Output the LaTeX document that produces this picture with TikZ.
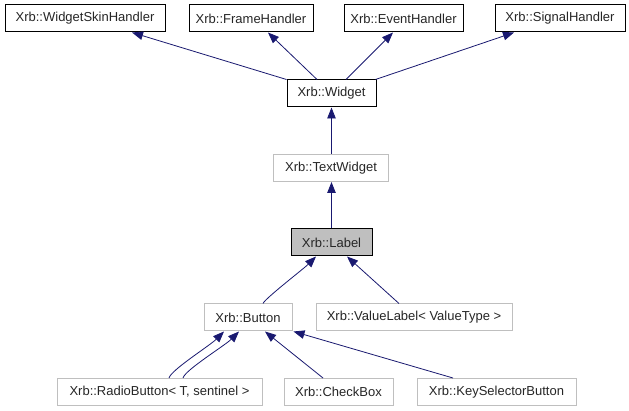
\documentclass[tikz,border=0pt]{standalone}
\usepackage{fontspec}
\setmainfont{Liberation Sans}
\usetikzlibrary{arrows.meta}
\definecolor{edgeblue}{HTML}{191970}
\definecolor{boxgray}{HTML}{BFBFBF}
\begin{document}
\begin{tikzpicture}[x=1pt,y=-1pt,
  box/.style={draw=black,line width=1pt,minimum height=27pt,inner sep=0pt,
    font=\fontsize{13}{15}\selectfont,text=black!85},
  graybox/.style={box,draw=boxgray},
  curbox/.style={box,fill=boxgray},
  edge/.style={draw=edgeblue,line width=0.8pt,-{Triangle[length=11pt,width=8.5pt]}}]
\useasboundingbox[fill=white] (0,0) rectangle (629,411);
% top row
\node[box,minimum width=160pt] (wsh) at (85,18.5) {Xrb::WidgetSkinHandler};
\node[box,minimum width=124pt] (fh) at (251,18.5) {Xrb::FrameHandler};
\node[box,minimum width=119pt] (eh) at (403.5,18.5) {Xrb::EventHandler};
\node[box,minimum width=130pt] (sh) at (560,18.5) {Xrb::SignalHandler};
% middle column
\node[box,minimum width=89pt] (widget) at (331.5,93.5) {Xrb::Widget};
\node[graybox,minimum width=115pt] (tw) at (331,168) {Xrb::TextWidget};
\node[curbox,minimum width=81pt] (label) at (331.5,242.5) {Xrb::Label};
% lower rows
\node[graybox,minimum width=88pt] (button) at (248,317.5) {Xrb::Button};
\node[graybox,minimum width=196pt] (vl) at (414,317.5) {Xrb::ValueLabel< ValueType >};
\node[graybox,minimum width=205pt] (radio) at (159.5,392) {Xrb::RadioButton< T, sentinel >};
\node[graybox,minimum width=109pt] (cb) at (338.5,392) {Xrb::CheckBox};
\node[graybox,minimum width=159pt] (ksb) at (496.5,392) {Xrb::KeySelectorButton};
% edges
\draw[edge] (widget.north west) -- ([xshift=47pt]wsh.south);
\draw[edge] ([xshift=-14.5pt]widget.north) -- ([xshift=17pt]fh.south);
\draw[edge] ([xshift=14.5pt]widget.north) -- ([xshift=-10.5pt]eh.south);
\draw[edge] ([xshift=-1pt]widget.north east) -- ([xshift=-46pt]sh.south);
\draw[edge] ([xshift=0.5pt]tw.north) -- (widget.south);
\draw[edge] (label.north) -- ([xshift=0.5pt]tw.south);
\draw[edge] ([xshift=15pt]button.north) .. controls +(2,-5) and +(-12,12) .. ([xshift=-15.5pt]label.south);
\draw[edge] ([xshift=-15pt]vl.north) -- ([xshift=15.5pt]label.south);
\draw[edge] ([xshift=9.5pt]radio.north) .. controls +(2,-8) and +(-14,14) .. ([xshift=-24pt]button.south);
\draw[edge] ([xshift=23.5pt]radio.north) .. controls +(2,-8) and +(-14,14) .. ([xshift=-9pt]button.south);
\draw[edge] ([xshift=-15.5pt]cb.north) -- ([xshift=17pt]button.south);
\draw[edge] ([xshift=-43.5pt]ksb.north) -- ([xshift=1pt]button.south east);
\end{tikzpicture}
\end{document}
